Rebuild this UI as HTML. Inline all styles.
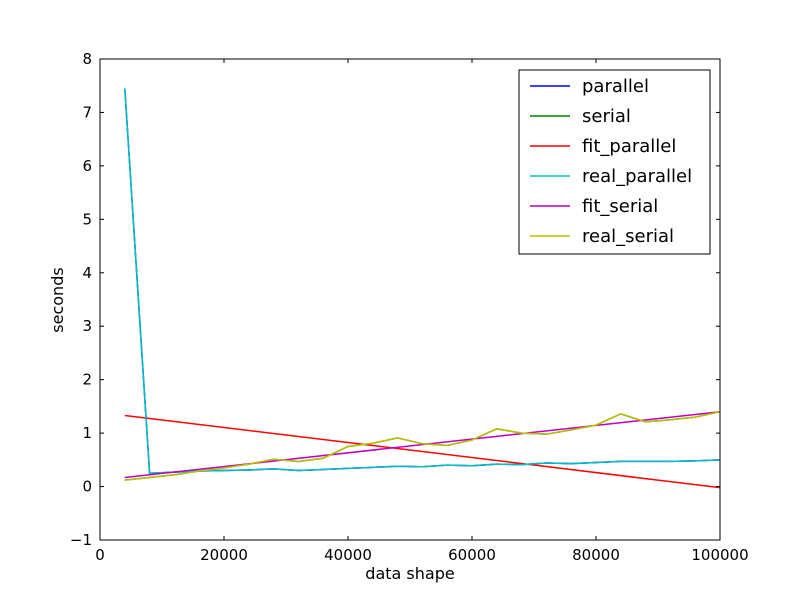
<!DOCTYPE html>
<html><head><meta charset="utf-8">
<style>
body{margin:0;background:#fff;}
svg text{font-family:"DejaVu Sans","Liberation Sans",sans-serif;}
</style></head>
<body>
<svg id="chart" width="800" height="600" xmlns="http://www.w3.org/2000/svg">
<rect x="0" y="0" width="800" height="600" fill="#fff"/>
<g id="plot"></g>
</svg>
<script>
const xValues = [4000,8000,12000,16000,20000,24000,28000,32000,36000,40000,44000,48000,52000,56000,60000,64000,68000,72000,76000,80000,84000,88000,92000,96000,100000];
const parallelValues = [7.45,0.25,0.27,0.29,0.30,0.31,0.33,0.30,0.32,0.34,0.36,0.38,0.37,0.40,0.39,0.42,0.41,0.44,0.43,0.45,0.47,0.47,0.47,0.48,0.50];
const serialValues = [0.12,0.17,0.22,0.29,0.35,0.42,0.51,0.47,0.53,0.75,0.81,0.91,0.80,0.77,0.87,1.08,1.00,0.98,1.06,1.15,1.36,1.21,1.25,1.30,1.40];
const fitParallelX = [4000,100000];
const fitParallelY = [1.33,-0.02];
const fitSerialX = [4000,100000];
const fitSerialY = [0.17,1.40];
const xTicks = [0,20000,40000,60000,80000,100000];
const yTicks = [-1,0,1,2,3,4,5,6,7,8];
const yTickLabels = ["\u22121","0","1","2","3","4","5","6","7","8"];
const legendLabels = ["parallel","serial","fit_parallel","real_parallel","fit_serial","real_serial"];
const legendColors = ["#0000ff","#008000","#ff0000","#00bfbf","#bf00bf","#bfbf00"];

const L=100,R=720,T=59,B=540;
const sx=v=>L+(v-0)/(100000-0)*(R-L);
const sy=v=>B-(v-(-1))/(8-(-1))*(B-T);
const NS="http://www.w3.org/2000/svg";
const g=document.getElementById('plot');
function mk(tag,attrs,parent){const e=document.createElementNS(NS,tag);for(const k in attrs)e.setAttribute(k,attrs[k]);(parent||g).appendChild(e);return e;}
function line(xs,ys,color,name){
  const p=mk('polyline',{points:xs.map((x,i)=>sx(x)+','+sy(ys[i])).join(' '),fill:'none',stroke:color,'stroke-width':1.5});
  
  
}
line(xValues,parallelValues,'#0000ff','parallel-line');
line(xValues,serialValues,'#008000','serial-line');
line(fitParallelX,fitParallelY,'#ff0000','fit-parallel-line');
line(xValues,parallelValues,'#00bfbf','real-parallel-line');
line(fitSerialX,fitSerialY,'#bf00bf','fit-serial-line');
line(xValues,serialValues,'#bfbf00','real-serial-line');

const frame=mk('rect',{x:L,y:T,width:R-L,height:B-T,fill:'none',stroke:'#000','stroke-width':1});



xTicks.forEach(v=>{
  const x=sx(v);
  mk('line',{x1:x,y1:B,x2:x,y2:B-4,stroke:'#000'});
  mk('line',{x1:x,y1:T,x2:x,y2:T+4,stroke:'#000'});
  const t=mk('text',{x:x,y:B+20,'text-anchor':'middle','font-size':15});
  t.textContent=v;
  
  
});
yTicks.forEach((v,i)=>{
  const y=sy(v);
  mk('line',{x1:L,y1:y,x2:L+4,y2:y,stroke:'#000'});
  mk('line',{x1:R,y1:y,x2:R-4,y2:y,stroke:'#000'});
  const t=mk('text',{x:L-8,y:y+5,'text-anchor':'end','font-size':15});
  t.textContent=yTickLabels[i];
  
  
});
const xt=mk('text',{x:410,y:579,'text-anchor':'middle','font-size':16});
xt.textContent='data shape';


const yt=mk('text',{x:63,y:300,'text-anchor':'middle','font-size':16,transform:'rotate(-90 63 300)'});
yt.textContent='seconds';



const leg=mk('g',{});


mk('rect',{x:519,y:70,width:191,height:184,fill:'#fff',stroke:'#000','stroke-width':1},leg);
legendLabels.forEach((lab,i)=>{
  const y=86+i*30;
  const e=mk('g',{},leg);
  
  
  mk('line',{x1:530,y1:y,x2:570,y2:y,stroke:legendColors[i],'stroke-width':1.5},e);
  const t=mk('text',{x:582,y:y+6,'font-size':18},e);
  t.textContent=lab;
});
</script>
</body></html>
